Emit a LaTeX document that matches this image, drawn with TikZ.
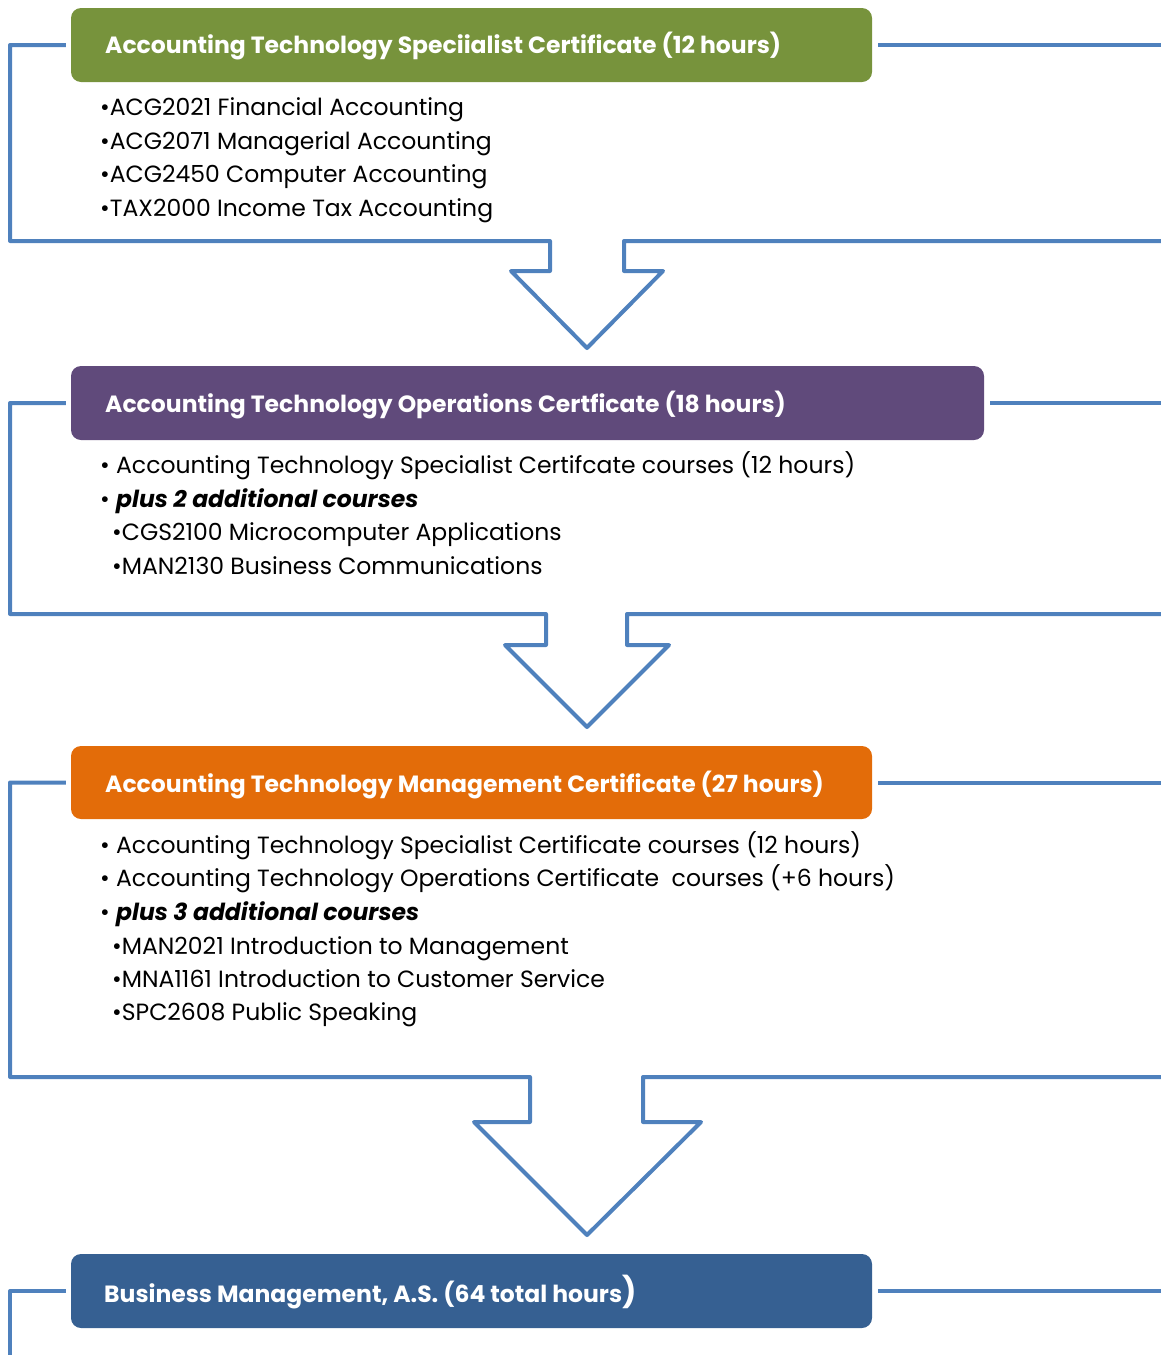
\documentclass[tikz,border=0pt]{standalone}
\usepackage{fontspec}
\setmainfont{Poppins}
\definecolor{lineblue}{HTML}{4F81BD}
\definecolor{cgreen}{HTML}{77933C}
\definecolor{cpurple}{HTML}{604A7B}
\definecolor{corange}{HTML}{E36C09}
\definecolor{cblue}{HTML}{366092}
\tikzset{
  bracket/.style={draw=lineblue, line width=4pt, line join=round},
  titlebox/.style={rounded corners=10pt, minimum height=74pt, inner sep=0pt, draw=none},
  titletext/.style={anchor=base west, text=white, font=\fontsize{23.5}{28}\selectfont\bfseries, inner sep=0pt},
  bodytext/.style={anchor=base west, text=black, font=\fontsize{23.5}{28}\selectfont, inner sep=0pt},
}
\begin{document}
\begin{tikzpicture}[x=1pt,y=-1pt]
\useasboundingbox (0,0) rectangle (1160,1355);
% boxes
\node[titlebox, fill=cgreen, minimum width=801pt] (box1) at (471.5,45) {};
\node[titlebox, fill=cpurple, minimum width=913pt] (box2) at (527.5,403) {};
\node[titlebox, fill=corange, minimum width=801pt, minimum height=73pt] (box3) at (471.5,782.5) {};
\node[titlebox, fill=cblue, minimum width=801pt] (box4) at (471.5,1291) {};
% brackets
\coordinate (r1) at (1162,45);
\coordinate (r1b) at (1162,241);
\draw[bracket] ([xshift=-5pt]box1.west) -- (10,45) -- (10,241) -- (550,241) -- (550,271) -- (511,271) -- (587,348) -- (663,271) -- (624,271) -- (624,241) -- (r1b);
\draw[bracket] ([xshift=6pt]box1.east) -- (r1);
\coordinate (r2) at (1162,403);
\coordinate (r2b) at (1162,614);
\draw[bracket] ([xshift=-5pt]box2.west) -- (10,403) -- (10,614) -- (546,614) -- (546,645) -- (505,645) -- (587,727) -- (669,645) -- (627,645) -- (627,614) -- (r2b);
\draw[bracket] ([xshift=6pt]box2.east) -- (r2);
\coordinate (r3) at (1162,782.5);
\coordinate (r3b) at (1162,1077);
\draw[bracket] ([xshift=-5pt]box3.west) -- (10,782.5) -- (10,1077) -- (530,1077) -- (530,1122) -- (474,1122) -- (587,1235) -- (701,1122) -- (643,1122) -- (643,1077) -- (r3b);
\draw[bracket] ([xshift=6pt]box3.east) -- (r3);
\coordinate (r4) at (1162,1291);
\coordinate (r4b) at (10,1357);
\draw[bracket] ([xshift=-5pt]box4.west) -- (10,1291) -- (r4b);
\draw[bracket] ([xshift=6pt]box4.east) -- (r4);
% titles
\node[titletext] (t1) at (105,53) {Accounting Technology Speciialist Certificate (12 hours)};
\node[titletext] (t2) at (105,412) {Accounting Technology Operations Certficate (18 hours)};
\node[titletext] (t3) at (105,792) {Accounting Technology Management Certificate (27 hours)};
\node[titletext] (t4) at (104,1302) {Business Management, A.S. (64 total hours{\fontsize{30}{30}\selectfont)}};
% body 1
\node[bodytext] (a1) at (100,115) {•ACG2021 Financial Accounting};
\node[bodytext] (a2) at (100,149) {•ACG2071 Managerial Accounting};
\node[bodytext] (a3) at (100,182) {•ACG2450 Computer Accounting};
\node[bodytext] (a4) at (100,216) {•TAX2000 Income Tax Accounting};
% body 2
\node[bodytext] (c1) at (100,473) {• Accounting Technology Specialist Certifcate courses (12 hours)};
\node[bodytext] (c2) at (100,507) {• \textbf{\textit{plus 2 additional courses}}};
\node[bodytext] (c3) at (112,540) {•CGS2100 Microcomputer Applications};
\node[bodytext] (c4) at (112,574) {•MAN2130 Business Communications};
% body 3
\node[bodytext] (d1) at (100,853) {• Accounting Technology Specialist Certificate courses (12 hours)};
\node[bodytext] (d2) at (100,886) {• Accounting Technology Operations Certificate\ \ courses (+6 hours)};
\node[bodytext] (d3) at (100,920) {• \textbf{\textit{plus 3 additional courses}}};
\node[bodytext] (d4) at (112,954) {•MAN2021 Introduction to Management};
\node[bodytext] (d5) at (112,987) {•MNA1161 Introduction to Customer Service};
\node[bodytext] (d6) at (112,1020) {•SPC2608 Public Speaking};
\end{tikzpicture}
\end{document}
